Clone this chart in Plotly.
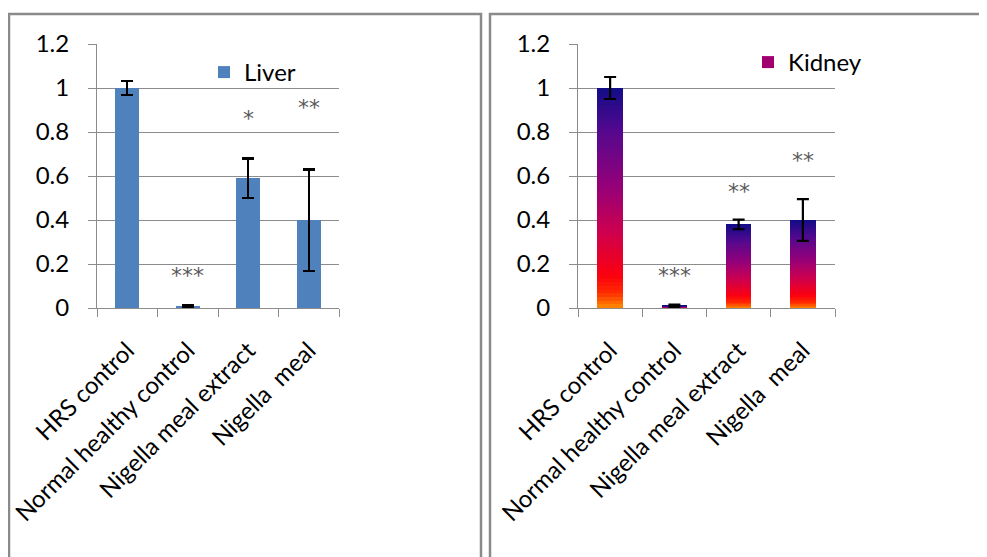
import plotly.graph_objects as go
from plotly.colors import sample_colorscale

categories = ["HRS control", "Normal healthy control", "Nigella meal extract", "Nigella  meal"]
liver_values = [1.0, 0.01, 0.59, 0.40]
liver_errors = [0.033, 0.005, 0.09, 0.23]
liver_stars = ["", "***", "*", "**"]
liver_star_y = [0, 0.15, 0.86, 0.91]
kidney_values = [1.0, 0.01, 0.38, 0.40]
kidney_errors = [0.05, 0.005, 0.022, 0.095]
kidney_stars = ["", "***", "**", "**"]
kidney_star_y = [0, 0.15, 0.53, 0.67]
y_ticks = [0, 0.2, 0.4, 0.6, 0.8, 1.0, 1.2]
y_ticktext = ["0", "0.2", "0.4", "0.6", "0.8", "1", "1.2"]

FONT = "Lato, Carlito, 'Open Sans', sans-serif"
STARFONT = "'DejaVu Sans', sans-serif"
fire = [[0.0, "#ff8c00"], [0.07, "#ff2a00"], [0.15, "#fb0010"], [0.35, "#cc0050"],
        [0.55, "#960078"], [0.8, "#55088e"], [1.0, "#120c88"]]

W, H = 987, 557
OFF = 8  # page body margin


def px(s):
    return (s - OFF) / W


def py(s):
    return 1 - (s - OFF) / H


fig = go.Figure()

fig.add_trace(go.Bar(
    x=categories, y=liver_values, name="Liver", xaxis="x", yaxis="y",
    marker=dict(color="#4f81bd", line=dict(width=0)), width=0.4,
    error_y=dict(type="data", array=liver_errors, color="black", thickness=2.2, width=6),
    legend="legend",
))

N = 60
cols = sample_colorscale(fire, [(i + 0.5) / N for i in range(N)])
for i in range(N):
    fig.add_trace(go.Bar(
        x=categories, y=[v / N for v in kidney_values], xaxis="x2", yaxis="y2",
        marker=dict(color=cols[i], line=dict(width=0)), width=0.4,
        showlegend=(i == N // 2), name="Kidney", legend="legend2", hoverinfo="skip",
    ))
fig.add_trace(go.Scatter(
    x=categories, y=kidney_values, xaxis="x2", yaxis="y2", mode="markers",
    marker=dict(size=0.1, color="rgba(0,0,0,0)"), showlegend=False,
    error_y=dict(type="data", array=kidney_errors, color="black", thickness=2.2, width=6),
))

annotations = []
for c, s, y in zip(categories, liver_stars, liver_star_y):
    if s:
        annotations.append(dict(x=c, y=y, xref="x", yref="y", text=s, showarrow=False,
                                font=dict(family=STARFONT, size=22, color="#595959")))
for c, s, y in zip(categories, kidney_stars, kidney_star_y):
    if s:
        annotations.append(dict(x=c, y=y, xref="x2", yref="y2", text=s, showarrow=False,
                                font=dict(family=STARFONT, size=22, color="#595959")))

axis_common = dict(showline=True, linecolor="#8c8c8c", linewidth=1, automargin=False)
xcommon = dict(axis_common, type="category", ticks="outside", tickson="boundaries", ticklen=8,
               tickcolor="#8c8c8c", tickangle=-45, showgrid=False, ticklabelstandoff=18,
               tickfont=dict(family=FONT, size=24, color="black"))
ycommon = dict(axis_common, range=[0, 1.2], tickvals=y_ticks, ticktext=y_ticktext,
               ticks="outside", ticklen=8, tickcolor="#8c8c8c", showgrid=True,
               gridcolor="#8c8c8c", gridwidth=1, zeroline=False, ticklabelstandoff=14,
               tickfont=dict(family=FONT, size=24, color="black"))
ydom = [py(308), py(44)]

fig.update_layout(
    width=W, height=H, template="none", barmode="stack",
    margin=dict(l=0, r=0, t=0, b=0), paper_bgcolor="white", plot_bgcolor="white",
    font=dict(family=FONT, color="black"),
    xaxis=dict(xcommon, domain=[px(97), px(339)], anchor="y"),
    yaxis=dict(ycommon, domain=ydom, anchor="x"),
    xaxis2=dict(xcommon, domain=[px(578), px(835)], anchor="y2"),
    yaxis2=dict(ycommon, domain=ydom, anchor="x2"),
    legend=dict(x=px(204), y=py(50), xanchor="left", yanchor="top", bgcolor="rgba(0,0,0,0)",
                font=dict(family=FONT, size=24), itemwidth=30),
    legend2=dict(x=px(748), y=py(40), xanchor="left", yanchor="top", bgcolor="rgba(0,0,0,0)",
                 font=dict(family=FONT, size=24), itemwidth=30),
    annotations=annotations,
    shapes=[
        dict(type="rect", xref="paper", yref="paper", x0=px(9), x1=px(481), y0=-0.05, y1=py(14),
             line=dict(color="#8a8a8a", width=2.5)),
        dict(type="rect", xref="paper", yref="paper", x0=px(490), x1=1.05, y0=-0.05, y1=py(14),
             line=dict(color="#8a8a8a", width=2.5)),
    ],
)

fig.write_html("out.html")
